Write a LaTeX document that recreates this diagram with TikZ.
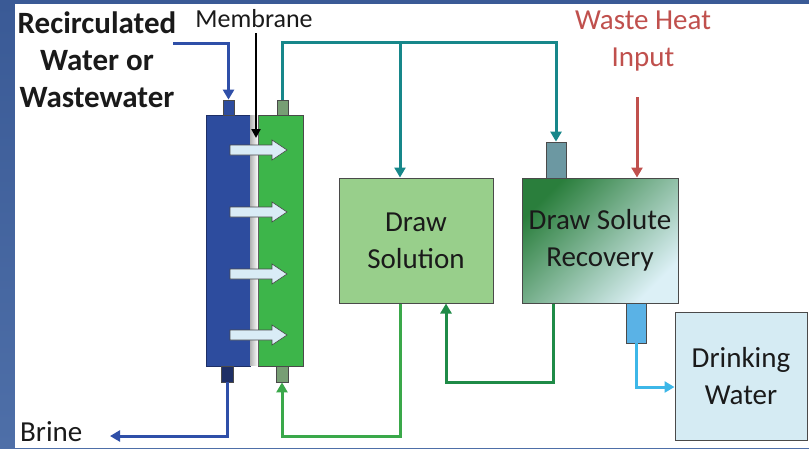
\documentclass[tikz,border=0pt]{standalone}
\usepackage{fontspec}
\setmainfont{Carlito}
\usetikzlibrary{arrows.meta,calc}
\definecolor{bgblue}{HTML}{3A5A96}
\definecolor{bgblue2}{HTML}{4E6FA8}
\definecolor{txt}{HTML}{1A1A1A}
\definecolor{feedblue}{HTML}{2D4C9E}
\definecolor{feeddark}{HTML}{1E2F66}
\definecolor{drawgreen}{HTML}{3DB54A}
\definecolor{portgreen}{HTML}{779E74}
\definecolor{dsfill}{HTML}{98CF8B}
\definecolor{edge}{HTML}{4A4A4A}
\definecolor{dwfill}{HTML}{D5EBF3}
\definecolor{tealc}{HTML}{17878A}
\definecolor{heatred}{HTML}{C0504D}
\definecolor{lblue}{HTML}{3DB7E8}
\definecolor{portlblue}{HTML}{5AB2E6}
\definecolor{portteal}{HTML}{6C98A2}
\definecolor{greenA}{HTML}{3AA84A}
\definecolor{greenB}{HTML}{1F8B47}
\definecolor{brineblue}{HTML}{2F4FA8}
\definecolor{arrowfill}{HTML}{D9ECF6}
\definecolor{dsrdark}{HTML}{2A7E3C}
\definecolor{dsrmid}{HTML}{7DBB8F}
\definecolor{dsrlight}{HTML}{DCF0F6}
\begin{document}
\begin{tikzpicture}[x=1pt,y=-1pt,
  lbl/.style={font=\fontsize{29}{37}\selectfont, align=center, inner sep=0pt, text=txt},
  blbl/.style={font=\fontsize{31}{37}\selectfont\bfseries, align=center, inner sep=0pt, text=txt},
  box/.style={draw=edge, line width=1pt, inner sep=0pt, align=center, text=txt,
              font=\fontsize{29}{37}\selectfont},
  port/.style={draw=edge, line width=0.8pt, inner sep=0pt},
  flow/.style={line width=3pt, -{Triangle[length=10pt,width=11pt]}}
]
\useasboundingbox (0,0) rectangle (809,448);
% background frame
\shade[top color=bgblue, bottom color=bgblue2] (0,0) rectangle (809,448);
\fill[white] (15,4) rectangle (809,448);

% membrane module
\node[draw=feeddark, line width=0.8pt, fill=feedblue, minimum width=44pt, minimum height=251pt, inner sep=0pt] (feed) at (228,240.5) {};
\node[draw=edge, line width=0.8pt, fill=drawgreen, minimum width=45pt, minimum height=251pt, inner sep=0pt] (drawside) at (280.5,240.5) {};
\node[left color=gray!60, middle color=white, right color=white, minimum width=8pt, minimum height=250pt, inner sep=0pt] (memb) at (254,240.5) {};

\foreach \yy in {150,212,274,335}{
  \draw[fill=arrowfill, draw=edge, line width=0.6pt]
    (230,\yy-5) -- (272,\yy-5) -- (272,\yy-10) -- (287,\yy) -- (272,\yy+10) -- (272,\yy+5) -- (230,\yy+5) -- cycle;
}

% ports
\node[port, fill=feedblue, minimum width=11pt, minimum height=15pt] (fin) at (228.5,107.5) {};
\node[port, fill=portgreen, minimum width=11pt, minimum height=15pt] (din) at (282.5,107.5) {};
\node[port, fill=feeddark, minimum width=12pt, minimum height=16pt] (fout) at (227,374) {};
\node[port, fill=portgreen, minimum width=12pt, minimum height=16pt] (gout) at (282,374) {};

% boxes
\node[box, fill=dsfill, minimum width=154pt, minimum height=125pt] (ds) at (416,240.5) {Draw\\Solution};
\node[box, top color=dsrdark, middle color=dsrmid, bottom color=dsrlight, shading angle=45,
      minimum width=156pt, minimum height=125pt] (dsr) at (600,240.5) {Draw Solute\\Recovery};
\node[box, fill=dwfill, minimum width=132pt, minimum height=128pt] (dw) at (741,376) {Drinking\\Water};
\node[port, fill=portteal, minimum width=20pt, minimum height=36pt] (dsrin) at (556,160) {};
\node[port, fill=portlblue, minimum width=20pt, minimum height=40pt] (dsrout) at (636,323) {};

% labels
\node[blbl] (recirc) at (97,60) {Recirculated\\Water or\\Wastewater};
\node[lbl, font=\fontsize{26}{32}\selectfont] (membl) at (254,19) {Membrane};
\node[lbl, text=heatred] (heat) at (643,41) {Waste Heat\\Input};
\node[lbl, anchor=west] (brine) at (20,432) {Brine};

% coordinates for free ends
\coordinate (inl) at (173,43);
\coordinate (mtop) at (256,33);
\coordinate (mtip) at (256,138);
\coordinate (tb) at (400,43);
\coordinate (wh) at (637,97);
\coordinate (brineend) at (110,436);

% connectors
\draw[flow, brineblue] (inl) -| (fin.north);
\draw[line width=2.5pt, -{Triangle[length=9pt,width=9pt]}, black] (mtop) -- (mtip);
\draw[flow, tealc] (din.north) -- ++(0,-57) -| (dsrin.north);
\draw[flow, tealc] (tb) -- (tb |- ds.north);
\draw[flow, heatred] (wh) -- (wh |- dsr.north);
\draw[flow, lblue] (dsrout.south) |- ([yshift=-11pt]dw.west);
\draw[flow, greenA] ([xshift=-16pt]ds.south) -- ++(0,133) -| (gout.south);
\draw[flow, greenB] ([xshift=-47pt]dsr.south) -- ++(0,79) -| ([xshift=30pt]ds.south);
\draw[flow, brineblue] (fout.south) |- (brineend);
\end{tikzpicture}
\end{document}
